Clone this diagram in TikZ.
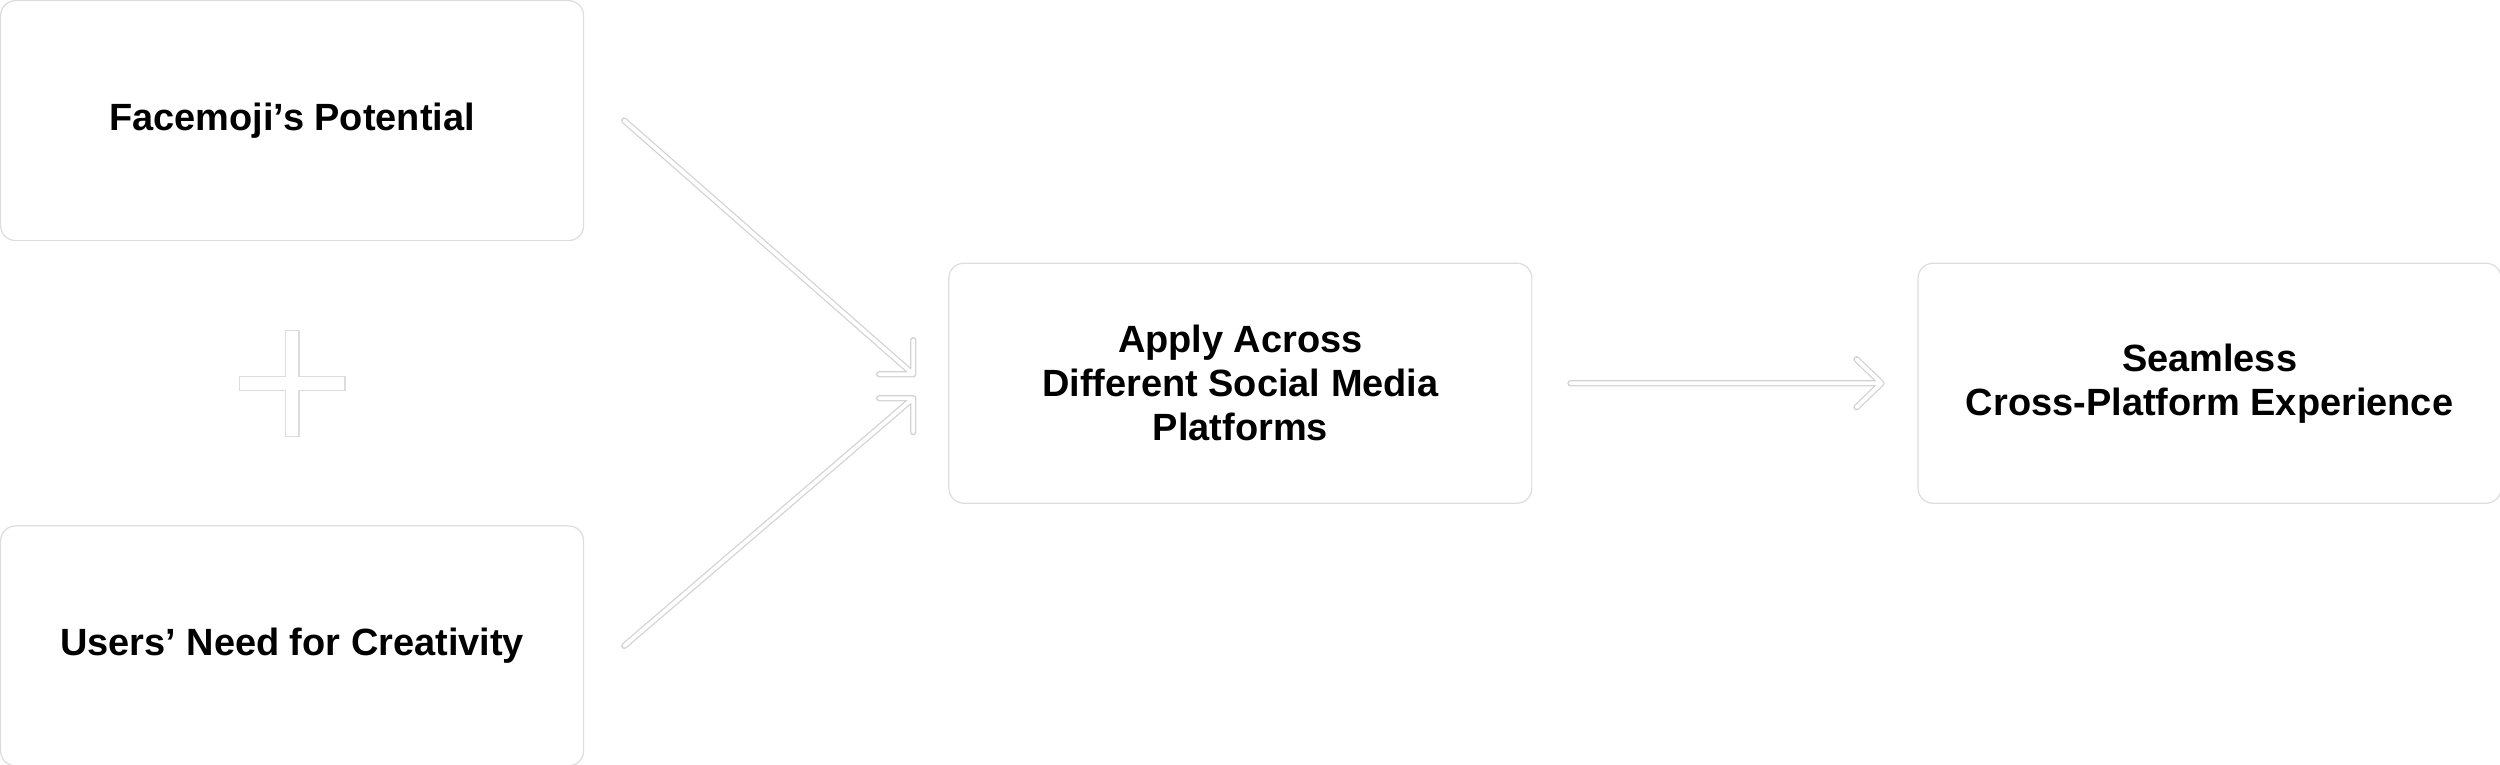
\documentclass[tikz,border=0pt]{standalone}
\usepackage{fontspec}
\setmainfont{Liberation Sans}
\usepackage{tikz}
\usetikzlibrary{positioning,calc}
\definecolor{edge}{HTML}{DDDDDD}
\definecolor{wire}{HTML}{D2D2D2}
\definecolor{ink}{HTML}{000000}
\tikzset{
  box/.style={rectangle,rounded corners=1.5mm,draw=edge,line width=0.35pt,fill=white,
    align=center,font=\bfseries\fontsize{10.8}{12.5}\selectfont,text=ink,
    minimum width=5.83cm,minimum height=2.40cm,inner sep=0pt},
  hollow/.style={draw=wire,line width=0.35pt,double=white,double distance=1.1pt,
    line cap=round,line join=round},
  plusbar/.style={draw=edge,line width=0.35pt,double=white,double distance=3.6pt,
    line cap=rect},
}

\begin{document}
\begin{tikzpicture}
  \useasboundingbox (0,0) rectangle (25,-7.64);
  \node[box,anchor=north west] (face) at (0,0) {Facemoji’s Potential};
  \node[box,below=2.84cm of face] (users) {Users’ Need for Creativity};
  \coordinate (mid) at ($(face.east)!0.5!(users.east)$);
  \node[box,right=3.64cm of mid] (apply) {Apply Across\\Different Social Media\\Platforms};
  \node[box,right=3.85cm of apply] (seam) {Seamless\\Cross-Platform Experience};
  % plus sign between the two inputs
  \coordinate (plus) at ($(face.south)!0.5!(users.north)$);
  \draw[plusbar] ([xshift=-4.6mm]plus) -- ([xshift=4.6mm]plus)
    ([yshift=-4.6mm]plus) -- ([yshift=4.6mm]plus);
  % hollow arrows
  \coordinate (t1) at ([xshift=-3.5mm,yshift=0.9mm]apply.west);
  \coordinate (t2) at ([xshift=-3.5mm,yshift=-1.5mm]apply.west);
  \coordinate (t3) at ([xshift=-3.6mm]seam.west);
  \draw[hollow] ([xshift=4mm]face.east) -- (t1) ++(-3.4mm,0) -- (t1) -- ++(0,3.4mm);
  \draw[hollow] ([xshift=4mm]users.east) -- (t2) ++(-3.4mm,0) -- (t2) -- ++(0,-3.4mm);
  \draw[hollow] ([xshift=3.8mm]apply.east) -- (t3) ++(-2.5mm,2.4mm) -- (t3) -- ++(-2.5mm,-2.4mm);
\end{tikzpicture}
\end{document}
